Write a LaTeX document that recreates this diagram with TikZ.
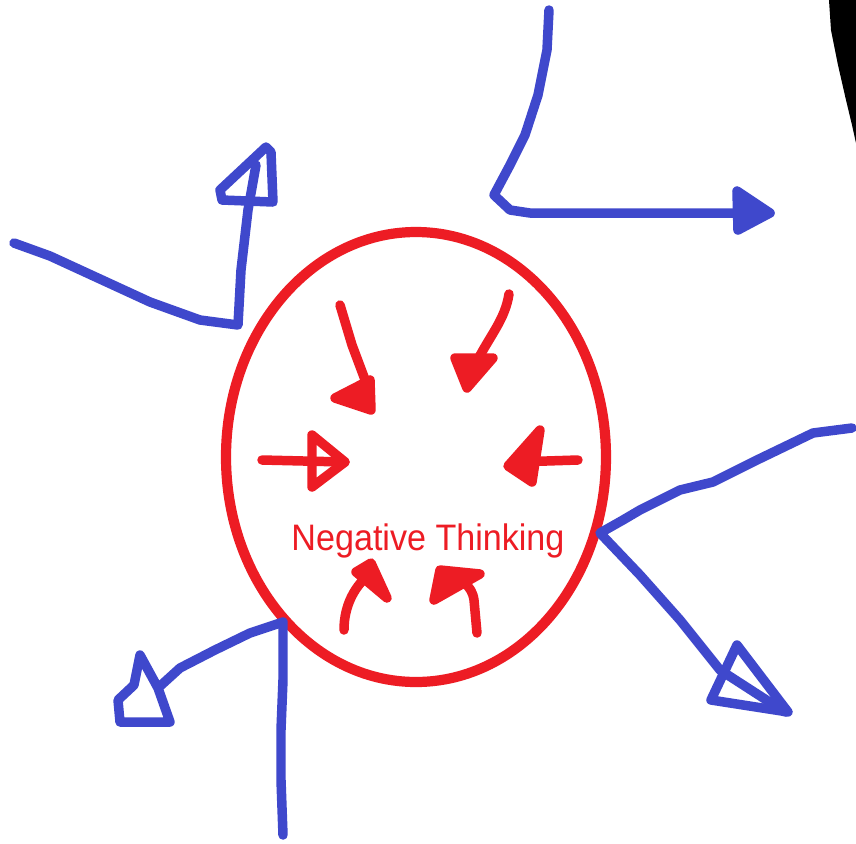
\documentclass[tikz,border=0pt]{standalone}
\usepackage{fontspec}
\setmainfont{Liberation Sans}
\definecolor{pblue}{RGB}{63,72,204}
\definecolor{pred}{RGB}{237,28,36}
\begin{document}
\begin{tikzpicture}[x=0.01cm,y=-0.01cm,
  bluestroke/.style={draw=pblue,line width=2.7pt,line cap=round,line join=round},
  redstroke/.style={draw=pred,line width=2.7pt,line cap=round,line join=round},
  redhead/.style={redstroke,fill=pred},
  bluehead/.style={bluestroke}]
\useasboundingbox (0,0) rectangle (856,844);
\fill[white] (0,0) rectangle (856,844);
% black shape top right
\fill[black] (829,0) -- (831,30) -- (838,65) -- (846,100) -- (852,125) -- (856,143) -- (856,0) -- cycle;
% red ellipse
\draw[pred,line width=2.9pt] (416,457) ellipse [x radius=190, y radius=225];
% text
\node[text=pred,font=\fontsize{9.7}{11}\selectfont,inner sep=0pt,yscale=1.08] (label) at (428,541) {Negative Thinking};
% red arrows
\draw[redstroke] (340,305) -- (352,345) -- (367,385);
\draw[redhead] (335,398) -- (370,380) -- (371,410) -- cycle;
\draw[redstroke] (509,294) .. controls (505,320) and (490,335) .. (475,365);
\draw[redhead] (455,358) -- (493,358) -- (467,388) -- cycle;
\draw[redstroke] (262,460) -- (345,462);
\draw[redstroke] (312,435) -- (345,462) -- (312,487) -- cycle;
\draw[redstroke] (578,460) -- (515,462);
\draw[redhead] (540,430) -- (508,466) -- (532,482) -- cycle;
\draw[redstroke] (344,630) .. controls (344,605) and (355,585) .. (372,572);
\draw[redhead] (356,572) -- (371,563) -- (387,598) -- cycle;
\draw[redstroke] (477,633) -- (474,600) .. controls (472,585) and (460,578) .. (448,578);
\draw[redhead] (434,600) -- (440,570) -- (480,574) -- cycle;
% blue path top-left
\draw[bluestroke] (14,243) -- (50,256) -- (100,279) -- (150,302) -- (200,320) -- (238,325) -- (241,270) -- (248,210) -- (256,165);
\draw[bluehead] (266,147) -- (220,190) -- (222,200) -- (273,202) -- (271,152) -- cycle;
% blue path top
\draw[bluestroke] (549,10) -- (547,50) -- (538,95) -- (525,135) -- (510,165) -- (494,195) -- (510,210) -- (530,213) -- (770,213);
\draw[bluestroke,fill=pblue] (737,191) -- (770,213) -- (738,230) -- cycle;
% blue path right
\draw[bluestroke] (852,428) -- (813,433) -- (757,460) -- (713,482) -- (680,490) -- (640,510) -- (623,520) -- (600,533) -- (640,575) -- (680,620) -- (720,670) -- (785,712);
\draw[bluehead] (737,645) -- (711,700) -- (788,712) -- cycle;
% blue path bottom-left
\draw[bluestroke] (283,835) -- (281,780) -- (281,730) -- (283,680) -- (283,622) -- (250,633) -- (215,650) -- (180,668) -- (158,688);
\draw[bluehead] (158,688) -- (140,655) -- (134,685) -- (118,700) -- (120,722) -- (170,722) -- cycle;
\end{tikzpicture}
\end{document}
